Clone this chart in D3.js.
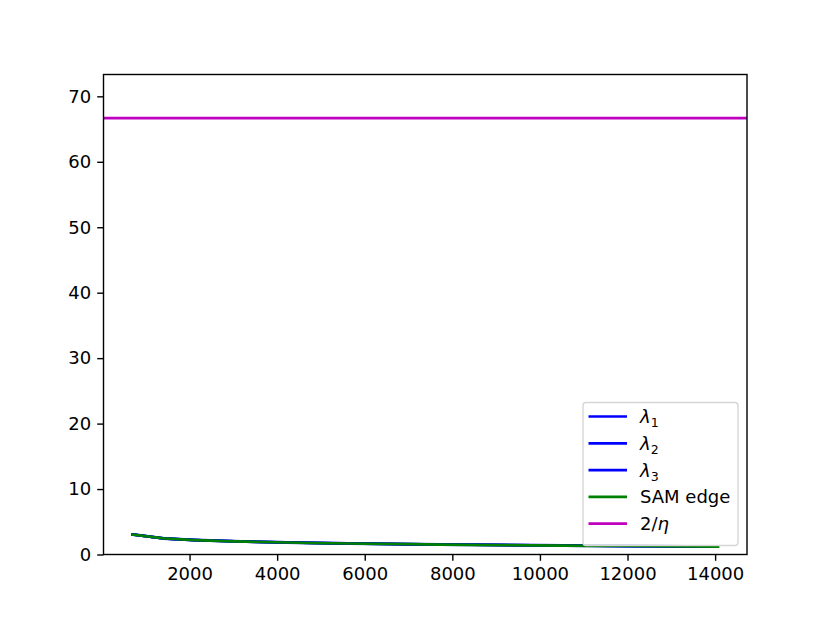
<!DOCTYPE html>
<meta charset="utf-8">
<script src="https://d3js.org/d3.v7.min.js"></script>
<style>
  body { margin: 0; background: #fff; }
  svg text { font-family: "DejaVu Sans", sans-serif; }
</style>
<div id="chart"></div>
<script>

// data
var steps = [703, 1406, 2109, 2812, 3515, 4218, 4921, 5624, 6327, 7030,
             7733, 8436, 9139, 9842, 10545, 11248, 11951, 12654, 13357, 14060]
var lambda1 = [3.07, 2.47, 2.22, 2.07, 1.95, 1.85, 1.77, 1.70, 1.64, 1.59,
               1.54, 1.50, 1.46, 1.42, 1.39, 1.35, 1.32, 1.29, 1.26, 1.23]
var lambda2 = [3.06, 2.46, 2.21, 2.06, 1.94, 1.84, 1.76, 1.69, 1.63, 1.58,
               1.53, 1.49, 1.45, 1.41, 1.38, 1.34, 1.31, 1.28, 1.25, 1.22]
var lambda3 = [3.04, 2.44, 2.19, 2.04, 1.92, 1.82, 1.74, 1.67, 1.61, 1.56,
               1.51, 1.47, 1.43, 1.39, 1.36, 1.32, 1.29, 1.26, 1.23, 1.20]
var samEdge = [3.05, 2.45, 2.20, 2.05, 1.93, 1.83, 1.75, 1.68, 1.62, 1.57,
               1.52, 1.48, 1.44, 1.40, 1.37, 1.33, 1.30, 1.27, 1.24, 1.21]
var twoOverEta = 66.67
var xTicks = [2000, 4000, 6000, 8000, 10000, 12000, 14000]
var yTicks = [0, 10, 20, 30, 40, 50, 60, 70]

var W = 830, H = 623
var margin = {top: 74.5, right: 83, bottom: 68.5, left: 103.5}
var width = W - margin.left - margin.right,
    height = H - margin.top - margin.bottom
var fs = 18

var svg = d3.select("#chart").append("svg")
    .attr("width", W).attr("height", H)

var g = svg.append("g")
    .attr("transform", "translate(" + margin.left + "," + margin.top + ")")

// matplotlib-ish 5% padding on x
var xmin = d3.min(steps), xmax = d3.max(steps), pad = (xmax - xmin) * 0.05
var x = d3.scaleLinear().domain([xmin - pad, xmax + pad]).range([0, width])
var y = d3.scaleLinear().domain([0, twoOverEta * 1.1]).range([height, 0])

var line = d3.line()
    .x(function(d, i) { return x(steps[i]) })
    .y(function(d) { return y(d) })

var series = [
  {vals: lambda1, color: "#0000ff"},
  {vals: lambda2, color: "#0000ff"},
  {vals: lambda3, color: "#0000ff"},
  {vals: samEdge, color: "#008000"}
]

var plot = g.append("g")
series.forEach(function(s) {
  plot.append("path")
    .datum(s.vals)
    .attr("fill", "none")
    .attr("stroke", s.color)
    .attr("stroke-width", 2.7)
    .attr("stroke-linejoin", "round")
    .attr("stroke-linecap", "square")
    .attr("d", line)
})

// horizontal 2/eta line
plot.append("line")
  .attr("x1", 0).attr("x2", width)
  .attr("y1", y(twoOverEta)).attr("y2", y(twoOverEta))
  .attr("stroke", "#bf00bf")
  .attr("stroke-width", 2.7)

// axes
var xAxis = g.append("g")
    .attr("transform", "translate(0," + height + ")")
    .call(d3.axisBottom(x).tickValues(xTicks).tickSize(6.3).tickPadding(6).tickFormat(d3.format("d")))
var yAxis = g.append("g")
    .call(d3.axisLeft(y).tickValues(yTicks).tickSize(6.3).tickPadding(6).tickFormat(d3.format("d")))

;[xAxis, yAxis].forEach(function(a) {
  a.select(".domain").remove()
  a.selectAll(".tick line").attr("stroke", "#000").attr("stroke-width", 1.4)
  a.selectAll(".tick text").attr("font-size", fs).attr("fill", "#000")
    .style("font-family", "DejaVu Sans, sans-serif")
})

// frame
g.append("rect")
  .attr("width", width).attr("height", height)
  .attr("fill", "none").attr("stroke", "#000").attr("stroke-width", 1.4)

// legend (lower right)
var legendItems = [
  {label: "λ", sub: "1", color: "#0000ff"},
  {label: "λ", sub: "2", color: "#0000ff"},
  {label: "λ", sub: "3", color: "#0000ff"},
  {label: "SAM edge", color: "#008000"},
  {label: "2/η", color: "#bf00bf"}
]
var lw = 155, rowH = 26.8, lh = legendItems.length * rowH + 9
var leg = g.append("g")
    .attr("transform", "translate(" + (width - 9 - lw) + "," + (height - 9 - lh) + ")")
leg.append("rect")
  .attr("width", lw).attr("height", lh)
  .attr("rx", 3).attr("ry", 3)
  .attr("fill", "#fff").attr("fill-opacity", 0.8)
  .attr("stroke", "#d6d6d6").attr("stroke-width", 1.4)

legendItems.forEach(function(d, i) {
  var cy = 14 + i * rowH
  leg.append("line")
    .attr("x1", 5.5).attr("x2", 44)
    .attr("y1", cy).attr("y2", cy)
    .attr("stroke", d.color).attr("stroke-width", 2.7)
  var t = leg.append("text")
    .attr("x", 57).attr("y", cy + 6.5)
    .attr("font-size", fs).attr("fill", "#000")
  if (d.sub) {
    t.append("tspan").attr("font-style", "italic").text(d.label)
    t.append("tspan").attr("font-size", fs * 0.7).attr("dy", 4).text(d.sub)
  } else if (d.label == "2/η") {
    t.append("tspan").text("2/")
    t.append("tspan").attr("font-style", "italic").text("η")
  } else {
    t.text(d.label)
  }
})

</script>
